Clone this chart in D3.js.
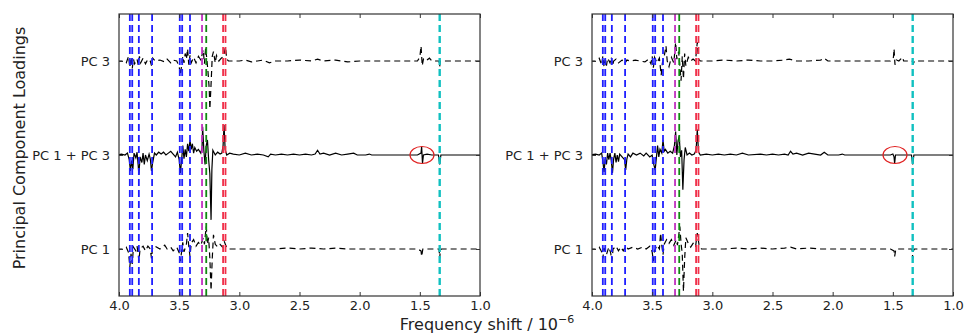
<!DOCTYPE html>
<html>
<head>
<meta charset="utf-8">
<script src="https://cdn.jsdelivr.net/npm/d3@7"></script>
<style>
  html, body { margin: 0; padding: 0; background: #fff; }
  svg { display: block; font-family: "DejaVu Sans", sans-serif; }
</style>
</head>
<body>
<div id="chart"></div>
<script>
// x ticks (frequency shift, 10^-6) and the three stacked rows
const xTicks = [4.0, 3.5, 3.0, 2.5, 2.0, 1.5, 1.0];
const rowLabels = ['PC 1', 'PC 1 + PC 3', 'PC 3'];
const rowOffsets = [0, 1, 2];

// marker lines (frequency positions)
const blueLines = [3.91, 3.89, 3.835, 3.725, 3.495, 3.475, 3.41];
const magentaLines = [3.31];
const greenLines = [3.275];
const redLines = [3.135, 3.115];
const cyanLines = [1.335];

// circled feature [freq, row]
const circled = [1.482, 1];

// left panel traces: [freq, loading] relative to row baseline
const leftPC3 = [
  [4.02, 0], [3.97, 0.0], [3.94, -0.02], [3.92, 0.05], [3.91, -0.07], [3.9, 0.04], [3.89, -0.08],
  [3.88, 0.02], [3.87, -0.03], [3.85, 0.02], [3.84, -0.04], [3.83, 0.05], [3.82, -0.02], [3.8, 0.03],
  [3.78, -0.03], [3.76, 0.02], [3.74, 0.0], [3.73, -0.05], [3.72, 0.03], [3.7, 0.0], [3.66, 0.01],
  [3.62, -0.01], [3.6, 0.02], [3.57, -0.02], [3.55, 0.01], [3.52, 0.0], [3.5, -0.06], [3.49, -0.15],
  [3.48, -0.05], [3.47, 0.05], [3.46, -0.02], [3.45, 0.08], [3.44, 0.02], [3.43, 0.13], [3.42, -0.04],
  [3.41, 0.06], [3.4, -0.02], [3.38, 0.04], [3.36, -0.02], [3.34, 0.05], [3.32, 0.01], [3.3, 0.12],
  [3.29, -0.03], [3.28, 0.14], [3.27, 0.02], [3.26, -0.12], [3.25, -0.3], [3.245, -0.51], [3.235, -0.25],
  [3.225, 0.05], [3.215, 0.1], [3.2, -0.02], [3.19, 0.06], [3.17, 0.0], [3.15, 0.03], [3.13, 0.05],
  [3.115, 0.15], [3.105, 0.02], [3.09, 0.0], [3.0, 0.0], [2.95, 0.01], [2.9, -0.01], [2.85, 0.0],
  [2.8, 0.01], [2.75, -0.02], [2.7, 0.0], [2.6, 0.0], [2.5, 0.01], [2.4, 0.0], [2.35, 0.02], [2.3, 0.0],
  [2.2, 0.01], [2.1, -0.01], [2.0, 0.0], [1.9, 0.0], [1.8, 0.0], [1.6, 0.0], [1.52, 0.0], [1.5, 0.04],
  [1.49, 0.16], [1.48, -0.05], [1.47, 0.02], [1.45, 0.0], [1.42, 0.03], [1.4, 0.0], [1.34, 0.0],
  [1.335, -0.06], [1.33, 0.0], [1.0, 0.0]
];
const leftSum = [
  [4.02, 0.0], [3.98, 0.01], [3.95, 0.0], [3.93, 0.02], [3.915, -0.05], [3.905, -0.17], [3.895, -0.06],
  [3.885, -0.15], [3.875, 0.02], [3.86, -0.03], [3.85, 0.03], [3.84, -0.12], [3.835, -0.21], [3.825, -0.02],
  [3.81, -0.08], [3.8, 0.02], [3.79, -0.1], [3.78, 0.0], [3.765, -0.06], [3.75, 0.01], [3.74, -0.04],
  [3.73, -0.17], [3.72, -0.08], [3.705, 0.02], [3.69, 0.0], [3.67, 0.03], [3.65, 0.01], [3.63, 0.03],
  [3.61, 0.0], [3.59, 0.02], [3.57, 0.04], [3.55, 0.01], [3.53, -0.02], [3.515, 0.03], [3.5, -0.05],
  [3.49, -0.19], [3.48, -0.06], [3.47, 0.1], [3.46, -0.04], [3.45, 0.06], [3.44, -0.02], [3.43, 0.12],
  [3.42, 0.04], [3.41, 0.16], [3.4, 0.06], [3.39, 0.12], [3.38, 0.02], [3.37, 0.08], [3.355, 0.04],
  [3.34, 0.06], [3.32, 0.02], [3.31, 0.08], [3.305, 0.3], [3.295, 0.05], [3.285, -0.1], [3.275, 0.1],
  [3.265, 0.16], [3.255, -0.05], [3.245, -0.2], [3.235, -0.69], [3.228, -0.15], [3.22, 0.05], [3.2, 0.0],
  [3.18, 0.03], [3.16, 0.01], [3.145, 0.02], [3.135, 0.1], [3.127, 0.32], [3.118, 0.06], [3.105, 0.0],
  [3.08, 0.02], [3.05, 0.01], [3.0, 0.0], [2.95, 0.02], [2.9, 0.0], [2.85, 0.01], [2.8, 0.0], [2.76, -0.02],
  [2.74, 0.01], [2.7, 0.0], [2.65, 0.01], [2.6, 0.0], [2.55, 0.01], [2.5, 0.0], [2.45, 0.01], [2.4, 0.0],
  [2.37, 0.01], [2.35, 0.05], [2.33, 0.01], [2.3, 0.02], [2.25, 0.0], [2.2, 0.02], [2.15, 0.0], [2.1, 0.01],
  [2.05, 0.02], [2.02, 0.0], [1.95, 0.0], [1.92, 0.01], [1.9, 0.0], [1.8, 0.0], [1.7, 0.0], [1.6, 0.0],
  [1.52, 0.0], [1.49, 0.02], [1.485, 0.09], [1.478, -0.09], [1.47, 0.0], [1.44, 0.01], [1.4, 0.0],
  [1.345, 0.0], [1.335, -0.1], [1.325, 0.0], [1.3, 0.0], [1.2, 0.0], [1.1, 0.0], [1.0, 0.0]
];
const leftPC1 = [
  [4.02, 0], [3.97, 0.0], [3.94, 0.02], [3.92, -0.04], [3.91, -0.19], [3.9, -0.05], [3.89, -0.16],
  [3.88, 0.02], [3.86, -0.02], [3.85, 0.03], [3.84, -0.06], [3.835, -0.13], [3.825, 0.0], [3.8, 0.03],
  [3.78, -0.02], [3.76, 0.03], [3.74, 0.0], [3.73, -0.1], [3.72, 0.02], [3.7, 0.03], [3.66, 0.0],
  [3.62, 0.04], [3.6, 0.0], [3.57, 0.02], [3.55, -0.02], [3.52, 0.02], [3.5, -0.04], [3.49, -0.13],
  [3.48, -0.03], [3.47, 0.07], [3.46, -0.03], [3.44, 0.05], [3.43, 0.17], [3.42, 0.03], [3.41, -0.08],
  [3.4, 0.06], [3.38, 0.1], [3.36, 0.03], [3.34, 0.07], [3.32, 0.04], [3.3, 0.12], [3.29, 0.05],
  [3.28, 0.18], [3.275, 0.24], [3.265, 0.05], [3.255, 0.12], [3.245, -0.1], [3.235, -0.44], [3.225, -0.1],
  [3.215, 0.15], [3.2, 0.05], [3.18, 0.02], [3.16, 0.05], [3.14, 0.02], [3.125, 0.08], [3.11, 0.03],
  [3.09, 0.0], [3.0, 0.0], [2.9, 0.0], [2.8, 0.0], [2.7, 0.0], [2.6, 0.01], [2.5, 0.0], [2.4, 0.01],
  [2.3, 0.0], [2.2, 0.01], [2.1, 0.0], [2.0, 0.0], [1.9, 0.0], [1.8, 0.0], [1.6, 0.0], [1.52, 0.0],
  [1.49, -0.02], [1.485, -0.08], [1.475, 0.0], [1.4, 0.0], [1.34, 0.0], [1.335, -0.1], [1.33, -0.02],
  [1.32, 0.0], [1.0, 0.0]
];

// right panel traces
const rightPC3 = [
  [4.02, 0], [3.97, 0.0], [3.94, 0.03], [3.92, -0.04], [3.91, 0.05], [3.9, -0.06], [3.89, 0.02],
  [3.88, -0.05], [3.87, 0.03], [3.85, -0.02], [3.84, 0.04], [3.83, -0.05], [3.82, 0.0], [3.8, 0.02],
  [3.78, -0.02], [3.75, 0.01], [3.73, -0.03], [3.71, 0.01], [3.68, 0.0], [3.64, 0.01], [3.6, 0.0],
  [3.56, -0.01], [3.53, 0.02], [3.51, -0.03], [3.5, 0.05], [3.49, -0.07], [3.48, 0.04], [3.46, -0.02],
  [3.44, 0.03], [3.425, -0.15], [3.415, -0.02], [3.4, 0.05], [3.385, 0.16], [3.375, 0.0], [3.36, -0.06],
  [3.34, 0.04], [3.32, -0.02], [3.305, 0.2], [3.295, 0.02], [3.28, 0.1], [3.27, -0.05], [3.26, -0.21],
  [3.25, 0.05], [3.24, -0.19], [3.23, 0.08], [3.22, -0.05], [3.2, 0.04], [3.18, 0.0], [3.16, 0.02],
  [3.14, 0.0], [3.125, 0.2], [3.115, 0.02], [3.1, 0.0], [3.0, 0.0], [2.9, 0.01], [2.8, 0.0], [2.7, 0.01],
  [2.6, 0.0], [2.5, 0.0], [2.4, 0.01], [2.36, 0.02], [2.3, 0.0], [2.2, 0.0], [2.1, 0.01], [2.07, 0.03],
  [2.04, 0.0], [1.9, 0.0], [1.8, 0.0], [1.6, 0.0], [1.52, 0.0], [1.495, 0.04], [1.49, 0.13],
  [1.482, -0.04], [1.47, 0.01], [1.45, 0.0], [1.42, 0.04], [1.41, 0.0], [1.34, 0.0], [1.33, -0.03],
  [1.32, 0.0], [1.0, 0.0]
];
const rightSum = [
  [4.02, 0.0], [3.97, 0.01], [3.94, 0.0], [3.92, 0.02], [3.91, -0.06], [3.9, -0.18], [3.89, -0.04],
  [3.88, -0.1], [3.87, 0.02], [3.86, -0.05], [3.85, 0.02], [3.84, -0.06], [3.83, -0.19], [3.82, -0.04],
  [3.81, 0.02], [3.8, -0.08], [3.79, 0.0], [3.78, -0.07], [3.77, 0.01], [3.75, -0.02], [3.73, -0.05],
  [3.72, -0.16], [3.71, -0.04], [3.7, 0.01], [3.68, -0.02], [3.66, 0.02], [3.63, 0.0], [3.6, 0.02],
  [3.57, -0.01], [3.55, 0.02], [3.52, -0.02], [3.5, 0.0], [3.49, -0.08], [3.475, -0.16], [3.465, -0.03],
  [3.455, 0.1], [3.445, -0.02], [3.435, 0.06], [3.42, 0.02], [3.41, 0.16], [3.4, 0.04], [3.39, 0.06],
  [3.37, 0.02], [3.35, 0.04], [3.33, 0.02], [3.315, 0.1], [3.305, 0.25], [3.295, 0.0], [3.285, 0.15],
  [3.275, 0.2], [3.265, -0.02], [3.255, 0.05], [3.245, -0.37], [3.235, -0.05], [3.225, 0.08],
  [3.21, 0.0], [3.19, 0.02], [3.17, 0.0], [3.15, 0.01], [3.135, 0.05], [3.125, 0.27], [3.115, 0.03],
  [3.1, 0.0], [3.05, 0.01], [3.0, 0.0], [2.95, 0.01], [2.9, 0.0], [2.85, 0.01], [2.8, 0.0], [2.75, 0.02],
  [2.7, 0.0], [2.6, 0.01], [2.55, 0.0], [2.5, 0.01], [2.45, 0.0], [2.4, 0.01], [2.37, 0.0], [2.35, 0.04],
  [2.33, 0.01], [2.3, 0.02], [2.25, 0.0], [2.2, 0.02], [2.15, 0.01], [2.1, 0.0], [2.07, 0.03], [2.04, 0.0],
  [1.95, 0.0], [1.92, 0.01], [1.9, 0.0], [1.8, 0.0], [1.7, 0.0], [1.6, 0.0], [1.52, 0.0], [1.5, 0.01],
  [1.49, -0.02], [1.485, -0.09], [1.478, 0.0], [1.44, 0.0], [1.4, 0.0], [1.345, 0.0], [1.335, -0.1],
  [1.325, 0.0], [1.2, 0.0], [1.0, 0.0]
];
const rightPC1 = [
  [4.02, 0], [3.97, 0.0], [3.94, 0.02], [3.92, -0.03], [3.91, -0.1], [3.9, 0.01], [3.88, -0.06],
  [3.86, 0.02], [3.845, -0.04], [3.835, -0.13], [3.825, 0.0], [3.8, 0.03], [3.78, -0.02], [3.76, 0.02],
  [3.74, -0.02], [3.72, 0.03], [3.7, 0.0], [3.66, 0.02], [3.62, 0.0], [3.58, 0.02], [3.55, 0.0],
  [3.52, 0.03], [3.5, -0.03], [3.49, -0.13], [3.48, -0.02], [3.46, 0.04], [3.44, 0.0], [3.43, 0.17],
  [3.42, 0.04], [3.41, -0.06], [3.4, 0.05], [3.38, 0.1], [3.36, 0.06], [3.34, 0.1], [3.32, 0.04],
  [3.3, 0.1], [3.29, 0.04], [3.28, 0.14], [3.27, 0.24], [3.26, 0.06], [3.25, -0.05], [3.24, -0.45],
  [3.23, -0.1], [3.22, 0.12], [3.2, 0.06], [3.18, 0.02], [3.16, 0.06], [3.14, 0.02], [3.125, 0.17],
  [3.11, 0.04], [3.09, 0.0], [3.0, 0.0], [2.9, 0.0], [2.8, 0.01], [2.7, 0.0], [2.6, 0.01], [2.5, 0.0],
  [2.4, 0.01], [2.35, 0.02], [2.3, 0.0], [2.2, 0.01], [2.1, 0.0], [2.0, 0.0], [1.9, 0.0], [1.8, 0.0],
  [1.6, 0.0], [1.52, 0.0], [1.49, -0.02], [1.485, -0.08], [1.475, 0.0], [1.4, 0.0], [1.34, 0.0],
  [1.335, -0.1], [1.33, -0.02], [1.32, 0.0], [1.0, 0.0]
];

const panels = [
  { left: 119, right: 480, traces: [leftPC1, leftSum, leftPC3] },
  { left: 592, right: 953, traces: [rightPC1, rightSum, rightPC3] }
];

const width = 967, height = 335;
const plotTop = 14, plotBottom = 296;

const svg = d3.select('#chart').append('svg')
  .attr('width', width)
  .attr('height', height);

const y = d3.scaleLinear().domain([-0.5, 2.5]).range([plotBottom, plotTop]);

panels.forEach((p, i) => {
  const x = d3.scaleLinear().domain([4.0, 1.0]).range([p.left, p.right]);
  const g = svg.append('g');

  g.append('clipPath').attr('id', 'clip' + i)
    .append('rect')
    .attr('x', p.left).attr('y', plotTop)
    .attr('width', p.right - p.left).attr('height', plotBottom - plotTop);

  const plot = g.append('g').attr('clip-path', `url(#clip${i})`);

  // traces
  p.traces.forEach((tr, k) => {
    const line = d3.line()
      .x(d => x(d[0]))
      .y(d => y(d[1] + rowOffsets[k]));
    plot.append('path')
      .datum(tr)
      .attr('d', line)
      .attr('fill', 'none')
      .attr('stroke', '#000')
      .attr('stroke-width', 1.2)
      .attr('stroke-dasharray', k === 1 ? null : '6,4');
  });

  // marker lines
  const markers = [
    [blueLines, '#1f1fff'],
    [magentaLines, '#c030c0'],
    [greenLines, '#108a10'],
    [redLines, '#f0304a'],
    [cyanLines, '#10c0c0']
  ];
  markers.forEach(([vals, col]) => {
    plot.selectAll(null)
      .data(vals)
      .join('line')
      .attr('x1', d => x(d)).attr('x2', d => x(d))
      .attr('y1', plotTop).attr('y2', plotBottom)
      .attr('stroke', col)
      .attr('stroke-width', col === '#10c0c0' ? 2.4 : 1.8)
      .attr('stroke-dasharray', '7,4');
  });

  // circle around the feature
  plot.append('ellipse')
    .attr('cx', x(circled[0]))
    .attr('cy', y(circled[1]))
    .attr('rx', 12).attr('ry', 8.5)
    .attr('fill', 'none')
    .attr('stroke', '#e02020')
    .attr('stroke-width', 1.2);

  // axes, ticks pointing inward
  g.append('g').attr('transform', `translate(0,${plotBottom})`)
    .call(d3.axisBottom(x).tickValues(xTicks).tickFormat(d3.format('.1f')).tickSize(-4).tickPadding(5));
  g.append('g').attr('transform', `translate(0,${plotTop})`)
    .call(d3.axisTop(x).tickValues(xTicks).tickFormat('').tickSize(-4));
  g.append('g').attr('transform', `translate(${p.left},0)`)
    .call(d3.axisLeft(y).tickValues(rowOffsets).tickFormat((d, j) => rowLabels[j]).tickSize(-4).tickPadding(9));
  g.append('g').attr('transform', `translate(${p.right},0)`)
    .call(d3.axisRight(y).tickValues(rowOffsets).tickFormat('').tickSize(-4));

  g.selectAll('.domain').remove();
  g.selectAll('.tick line').attr('stroke', '#333');
  g.selectAll('.tick text')
    .attr('fill', '#222')
    .style('font-size', '13px')
    .style('font-family', '"DejaVu Sans", sans-serif');

  g.append('rect')
    .attr('x', p.left).attr('y', plotTop)
    .attr('width', p.right - p.left).attr('height', plotBottom - plotTop)
    .attr('fill', 'none')
    .attr('stroke', '#333')
    .attr('stroke-width', 1.2);
});

// axis titles
svg.append('text')
  .attr('transform', 'translate(25,148) rotate(-90)')
  .attr('text-anchor', 'middle')
  .attr('fill', '#222')
  .style('font-size', '16px')
  .text('Principal Component Loadings');

const xl = svg.append('text')
  .attr('x', 487).attr('y', 330)
  .attr('text-anchor', 'middle')
  .attr('fill', '#222')
  .style('font-size', '16px');
xl.append('tspan').text('Frequency shift / 10');
xl.append('tspan').attr('dy', -7).style('font-size', '11px').text('\u22126');
</script>
</body>
</html>
